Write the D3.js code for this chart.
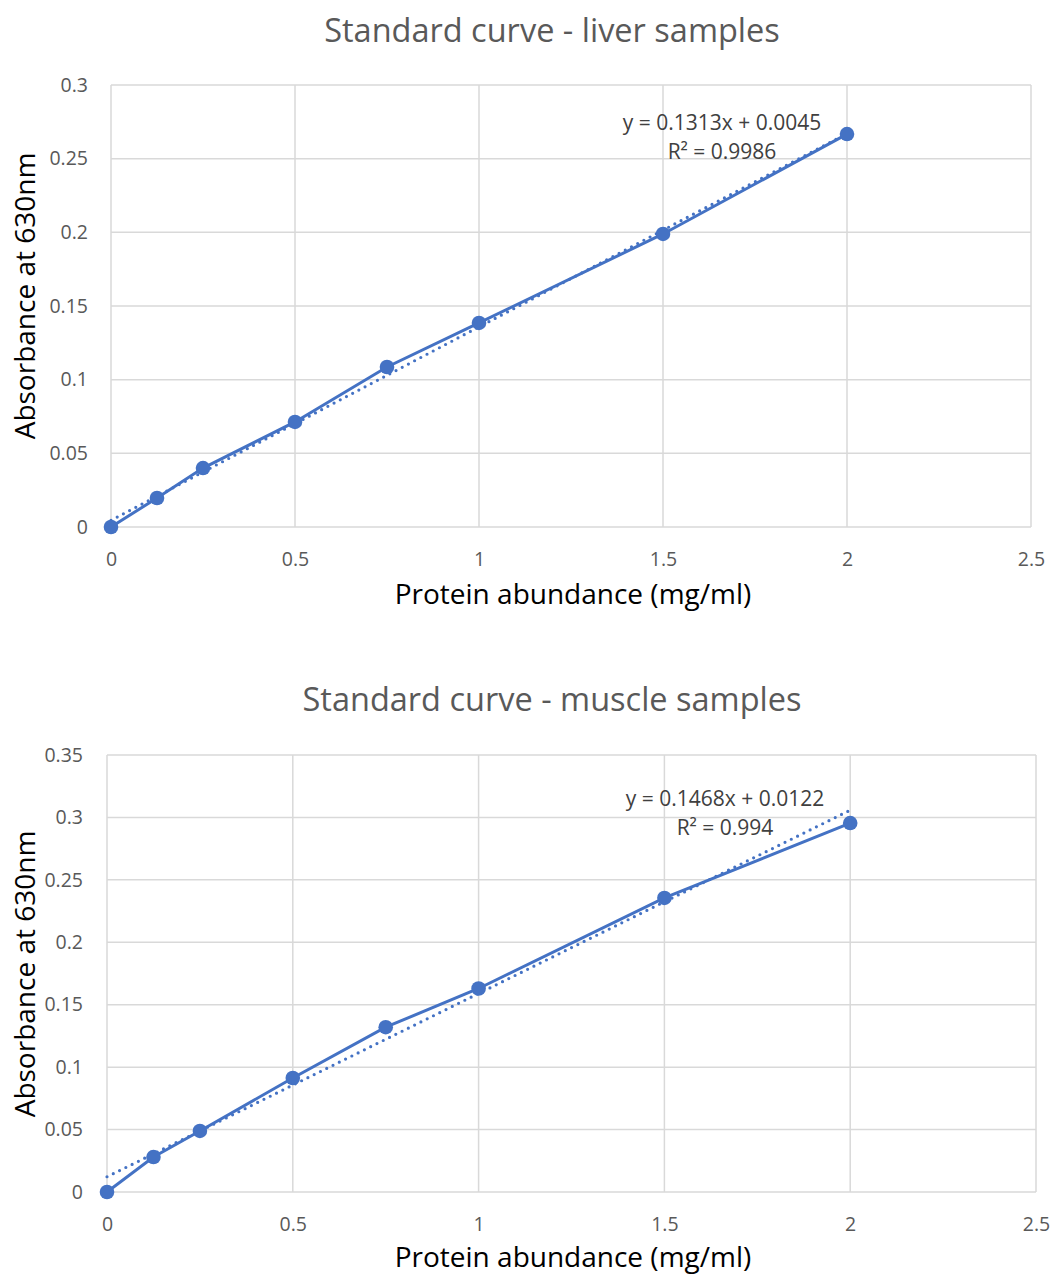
<!DOCTYPE html>
<html><head><meta charset="utf-8">
<script src="https://cdn.jsdelivr.net/npm/d3@7"></script>
<style>body{margin:0;background:#fff;} svg{display:block;}</style>
</head><body>
<svg id="c" width="1051" height="1274"></svg>
<script>
const concentrations = [0, 0.125, 0.25, 0.5, 0.75, 1, 1.5, 2];
const liverAbs  = [0, 0.0197, 0.040, 0.0713, 0.1086, 0.1385, 0.1989, 0.2667];
const muscleAbs = [0, 0.028, 0.0489, 0.0913, 0.132, 0.163, 0.2355, 0.2955];
const trendSlope = [0.1313, 0.1468];
const trendIntercept = [0.0045, 0.0122];
const trendEq = ["y = 0.1313x + 0.0045", "y = 0.1468x + 0.0122"];
const trendR2 = ["R² = 0.9986", "R² = 0.994"];
const titles = ["Standard curve - liver samples", "Standard curve - muscle samples"];
const xTicks = [0, 0.5, 1, 1.5, 2, 2.5];
const yTicksLiver = [0, 0.05, 0.1, 0.15, 0.2, 0.25, 0.3];
const yTicksMuscle = [0, 0.05, 0.1, 0.15, 0.2, 0.25, 0.3, 0.35];
const xLabel = "Protein abundance (mg/ml)";
const yLabel = "Absorbance at 630nm";

const svg = d3.select("#c");
const FONT = "'Open Sans', 'Liberation Sans', sans-serif";
const BLUE = "#4472c4";

function draw(cfg) {
  const g = svg.append("g");
  const x = d3.scaleLinear().domain([0, 2.5]).range([cfg.x0, cfg.x1]);
  const y = d3.scaleLinear().domain([0, cfg.yMax]).range([cfg.y0, cfg.y1]);

  // gridlines
  g.append("g").selectAll("line.h").data(cfg.yTicks).join("line")
    .attr("x1", x(0)).attr("x2", x(2.5)).attr("y1", d => y(d)).attr("y2", d => y(d))
    .attr("stroke", "#d9d9d9").attr("stroke-width", 1.5);
  g.append("g").selectAll("line.v").data(xTicks).join("line")
    .attr("x1", d => x(d)).attr("x2", d => x(d)).attr("y1", y(0)).attr("y2", y(cfg.yMax))
    .attr("stroke", "#d9d9d9").attr("stroke-width", 1.5);

  // axes tick labels via d3 axes
  const xAxis = g.append("g").attr("transform", `translate(0,${y(0)})`)
    .call(d3.axisBottom(x).tickValues(xTicks).tickSize(0).tickPadding(25).tickFormat(d3.format("")));
  const yAxis = g.append("g").attr("transform", `translate(${x(0)},0)`)
    .call(d3.axisLeft(y).tickValues(cfg.yTicks).tickSize(0).tickPadding(cfg.yPad).tickFormat(d => d === 0 ? "0" : String(+d.toFixed(2))));
  [xAxis, yAxis].forEach(a => {
    a.select(".domain").remove();
    a.selectAll("text").attr("font-family", FONT).attr("font-size", 19.5).attr("fill", "#595959");
  });

  // trendline
  const tx = [0, 2];
  g.append("path")
    .attr("d", d3.line().x(d => x(d)).y(d => y(cfg.slope * d + cfg.intercept))(tx))
    .attr("fill", "none").attr("stroke", BLUE).attr("stroke-width", 3.2)
    .attr("stroke-dasharray", "0 7").attr("stroke-linecap", "round");

  // series line
  const pts = concentrations.map((c, i) => [c, cfg.values[i]]);
  g.append("path")
    .attr("d", d3.line().x(d => x(d[0])).y(d => y(d[1]))(pts))
    .attr("fill", "none").attr("stroke", BLUE).attr("stroke-width", 3);
  g.append("g").selectAll("circle").data(pts).join("circle")
    .attr("cx", d => x(d[0])).attr("cy", d => y(d[1])).attr("r", 7.3).attr("fill", BLUE);

  // title
  g.append("text").attr("x", cfg.titleX).attr("y", cfg.titleY).attr("text-anchor", "middle")
    .attr("font-family", FONT).attr("font-size", 32.5).attr("fill", "#595959").text(cfg.title);
  // axis titles
  g.append("text").attr("x", cfg.xLabX).attr("y", cfg.xLabY).attr("text-anchor", "middle")
    .attr("font-family", FONT).attr("font-size", 28).attr("fill", "#000").text(xLabel);
  g.append("text").attr("transform", `translate(35,${cfg.yLabY}) rotate(-90)`).attr("text-anchor", "middle")
    .attr("font-family", FONT).attr("font-size", 28).attr("fill", "#000").text(yLabel);
  // equation
  g.append("text").attr("x", cfg.eqX).attr("y", cfg.eqY).attr("text-anchor", "middle")
    .attr("font-family", FONT).attr("font-size", 21).attr("fill", "#404040").text(cfg.eq);
  g.append("text").attr("x", cfg.eqX).attr("y", cfg.eqY + 29).attr("text-anchor", "middle")
    .attr("font-family", FONT).attr("font-size", 21).attr("fill", "#404040").text(cfg.r2);
}

draw({x0: 111, x1: 1031, y0: 527, y1: 85, yMax: 0.3, yTicks: yTicksLiver, yPad: 23,
  values: liverAbs, slope: trendSlope[0], intercept: trendIntercept[0],
  title: titles[0], titleX: 552, titleY: 42, xLabX: 573, xLabY: 604, yLabY: 296,
  eq: trendEq[0], r2: trendR2[0], eqX: 722, eqY: 130});
draw({x0: 107, x1: 1036, y0: 1192, y1: 755, yMax: 0.35, yTicks: yTicksMuscle, yPad: 24,
  values: muscleAbs, slope: trendSlope[1], intercept: trendIntercept[1],
  title: titles[1], titleX: 552, titleY: 711, xLabX: 573, xLabY: 1267, yLabY: 974,
  eq: trendEq[1], r2: trendR2[1], eqX: 725, eqY: 806});
</script>
</body></html>
